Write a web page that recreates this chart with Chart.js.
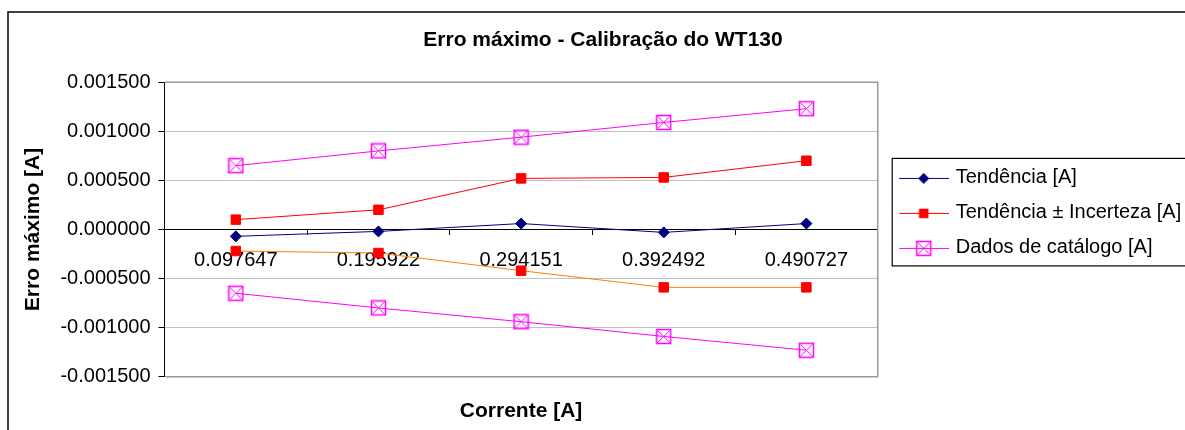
<!DOCTYPE html>
<html>
<head>
<meta charset="utf-8">
<script src="https://cdn.jsdelivr.net/npm/chart.js@4.4.0/dist/chart.umd.min.js"></script>
<style>
  html, body { margin: 0; padding: 0; background: #fff; }
  canvas { display: block; }
</style>
</head>
<body>
<canvas id="chart" width="1185" height="430"></canvas>
<script>
// --- data ---
const xLabels = ['0.097647', '0.195922', '0.294151', '0.392492', '0.490727'];
const tendencia = [-0.00007, -0.00002, 0.00006, -0.00003, 0.00006];
const incertezaSup = [0.00010, 0.00020, 0.00052, 0.00053, 0.00070];
const incertezaInf = [-0.00022, -0.00024, -0.00042, -0.00059, -0.00059];
const catalogoSup = [0.00065, 0.00080, 0.00094, 0.00109, 0.00123];
const catalogoInf = [-0.00065, -0.00080, -0.00094, -0.00109, -0.00123];
const yTicks = [-0.0015, -0.001, -0.0005, 0, 0.0005, 0.001, 0.0015];
const legendNames = ['Tendência [A]', 'Tendência ± Incerteza [A]', 'Dados de catálogo [A]'];

const FONT = "'Liberation Sans', Arial, sans-serif";
const NAVY = '#000080', RED = '#ff0000', ORANGE = '#ff7f00', MAGENTA = '#ff00ff';

// marker drawers (shared by the chart points and the legend icons)
function drawDiamond(ctx, x, y) {
  ctx.fillStyle = NAVY;
  ctx.beginPath();
  ctx.moveTo(x, y - 5.5); ctx.lineTo(x + 5.5, y); ctx.lineTo(x, y + 5.5); ctx.lineTo(x - 5.5, y);
  ctx.closePath(); ctx.fill();
}
function drawSquare(ctx, x, y) {
  ctx.fillStyle = RED;
  ctx.fillRect(x - 4.75, y - 4.75, 9.5, 9.5);
}
function drawBoxX(ctx, x, y) {
  ctx.strokeStyle = MAGENTA;
  ctx.lineWidth = 1.5;
  ctx.strokeRect(x - 7, y - 7, 14, 14);
  ctx.lineWidth = 1;
  ctx.beginPath();
  ctx.moveTo(x - 6, y - 6); ctx.lineTo(x + 6, y + 6);
  ctx.moveTo(x + 6, y - 6); ctx.lineTo(x - 6, y + 6);
  ctx.stroke();
}

// custom point style for the catalogue series
const boxX = document.createElement('canvas');
boxX.width = 17; boxX.height = 17;
drawBoxX(boxX.getContext('2d'), 8.5, 8.5);

// legend icons: line + marker, Excel style
function legendIcon(color, marker) {
  const c = document.createElement('canvas');
  c.width = 60; c.height = 20;
  const g = c.getContext('2d');
  g.strokeStyle = color; g.lineWidth = 1;
  g.beginPath(); g.moveTo(10, 10.5); g.lineTo(60, 10.5); g.stroke();
  marker(g, 34.5, 10.5);
  return c;
}
const legendIcons = [
  legendIcon(NAVY, drawDiamond),
  legendIcon(RED, drawSquare),
  legendIcon(MAGENTA, drawBoxX)
];

const framePlugin = {
  id: 'frame',
  beforeDraw(chart) {
    const ctx = chart.ctx;
    ctx.save();
    ctx.fillStyle = '#fff';
    ctx.fillRect(0, 0, chart.width, chart.height);
    ctx.strokeStyle = '#000';
    ctx.lineWidth = 1.5;
    ctx.strokeRect(8, 12, chart.width + 20, chart.height + 20);
    ctx.restore();
  },
  beforeDatasetsDraw(chart) {
    const {ctx, chartArea: a} = chart;
    ctx.save();
    ctx.strokeStyle = '#999';
    ctx.lineWidth = 1.5;
    ctx.beginPath();
    ctx.moveTo(a.left, a.top); ctx.lineTo(a.right, a.top);
    ctx.lineTo(a.right, a.bottom); ctx.lineTo(a.left + 1, a.bottom);
    ctx.stroke();
    ctx.restore();
  },
  afterDraw(chart) {
    const hb = chart.legend.legendHitBoxes;
    if (!hb || !hb.length) return;
    const ctx = chart.ctx;
    const top = hb[0].top - 9.5;
    const bottom = hb[hb.length - 1].top + hb[hb.length - 1].height + 8;
    ctx.save();
    ctx.strokeStyle = '#000';
    ctx.lineWidth = 1.2;
    ctx.strokeRect(hb[0].left - 0.5, top, chart.width, bottom - top);
    ctx.restore();
  }
};

const line = (label, data, color, extra) => Object.assign({
  label, data,
  borderColor: color,
  borderWidth: 1,
  pointRadius: 6,
  pointBorderWidth: 1,
  tension: 0,
  fill: false
}, extra);

new Chart(document.getElementById('chart'), {
  type: 'line',
  data: {
    labels: xLabels,
    datasets: [
      line(legendNames[0], tendencia, NAVY, {pointStyle: 'rectRot', pointRadius: 5.5, pointBackgroundColor: NAVY, pointBorderColor: NAVY}),
      line(legendNames[1], incertezaSup, RED, {pointStyle: 'rect', pointRadius: 6.7, pointBackgroundColor: RED, pointBorderColor: RED}),
      line(legendNames[1], incertezaInf, ORANGE, {pointStyle: 'rect', pointRadius: 6.7, pointBackgroundColor: RED, pointBorderColor: RED}),
      line(legendNames[2], catalogoSup, MAGENTA, {pointStyle: boxX}),
      line(legendNames[2], catalogoInf, MAGENTA, {pointStyle: boxX})
    ]
  },
  options: {
    responsive: false,
    animation: false,
    devicePixelRatio: 1,
    events: [],
    color: '#000',
    font: {family: FONT, size: 20},
    layout: {padding: {left: 21, top: 12, right: 0, bottom: 0}},
    plugins: {
      title: {
        display: true,
        text: 'Erro máximo - Calibração do WT130',
        color: '#000',
        font: {family: FONT, size: 21, weight: 'bold'},
        padding: {top: 16, bottom: 29}
      },
      legend: {
        position: 'right',
        align: 'start',
        fullSize: false,
        maxWidth: 307.3,
        title: {display: true, text: ' ', font: {size: 1}, padding: {top: 69.5, bottom: 0}},
        labels: {
          usePointStyle: true,
          pointStyleWidth: 53,
          boxHeight: 20,
          padding: 15,
          color: '#000',
          font: {family: FONT, size: 20},
          generateLabels: () => legendNames.map((text, i) => ({
            text,
            pointStyle: legendIcons[i],
            fillStyle: 'transparent',
            strokeStyle: 'transparent',
            lineWidth: 0,
            hidden: false,
            datasetIndex: [0, 1, 3][i]
          }))
        }
      },
      tooltip: {enabled: false}
    },
    scales: {
      x: {
        type: 'category',
        position: {y: 0},
        offset: true,
        grid: {display: true, offset: true, drawOnChartArea: false, drawTicks: true, tickLength: 5, tickColor: '#000', color: '#000'},
        border: {display: true, color: '#000', width: 1},
        ticks: {color: '#000', font: {family: FONT, size: 20}, padding: 14.5, maxRotation: 0, autoSkip: false}
      },
      x2: {
        type: 'category',
        axis: 'x',
        position: 'bottom',
        labels: xLabels,
        grid: {display: false, drawTicks: false, tickLength: 0},
        border: {display: false},
        ticks: {display: false},
        title: {
          display: true,
          text: 'Corrente [A]',
          color: '#000',
          font: {family: FONT, size: 21, weight: 'bold'},
          padding: {top: 22.2, bottom: 5.9}
        }
      },
      y: {
        type: 'linear',
        position: 'left',
        min: yTicks[0],
        max: yTicks[yTicks.length - 1],
        afterBuildTicks: s => { s.ticks = yTicks.map(v => ({value: v})); },
        afterFit: s => { s.width = 143.5; },
        grid: {color: '#c0c0c0', lineWidth: 1, drawTicks: true, tickLength: 6, tickColor: '#000'},
        border: {display: true, color: '#000', width: 1},
        ticks: {
          color: '#000',
          font: {family: FONT, size: 20},
          padding: 8,
          callback: v => (Math.abs(v) < 1e-12 ? 0 : v).toFixed(6)
        },
        title: {
          display: true,
          text: 'Erro máximo [A]',
          color: '#000',
          font: {family: FONT, size: 21, weight: 'bold'},
          padding: {top: 0, bottom: 0}
        }
      }
    }
  },
  plugins: [framePlugin]
});
</script>
</body>
</html>
